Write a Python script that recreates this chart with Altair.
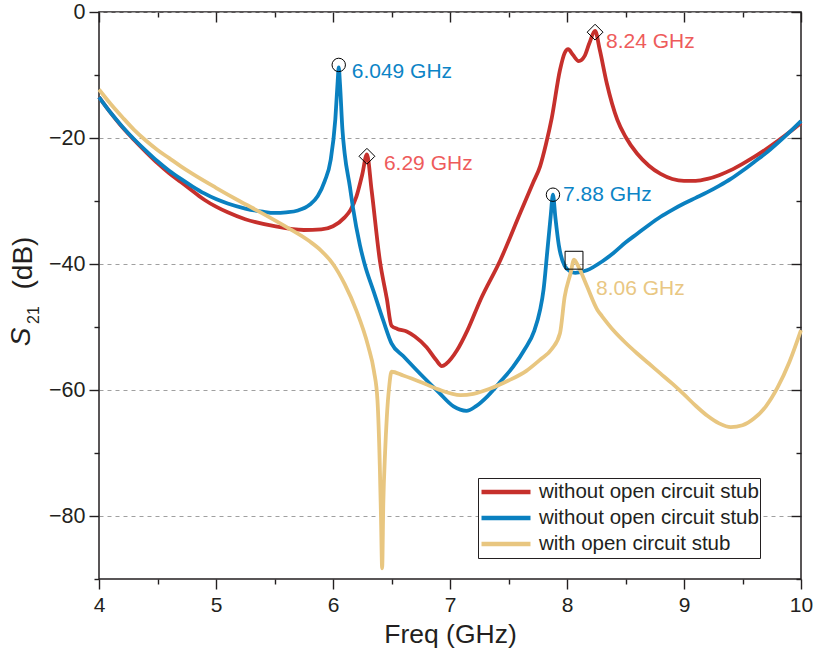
import altair as alt
import pandas as pd

# ---------------- data ----------------
series_names = ["without open circuit stub", "without open circuit stub\u200b", "with open circuit stub"]
series_colors = ["#C6302C", "#0A80C0", "#E8C680"]

red_freq = [4.0, 4.1, 4.2, 4.3, 4.4, 4.5, 4.6, 4.7, 4.8, 4.9, 5.0, 5.1, 5.25, 5.5, 5.75, 5.9, 6.0, 6.1, 6.15,
            6.2, 6.25, 6.29, 6.33, 6.4, 6.46, 6.5, 6.55, 6.63, 6.7, 6.8, 6.88, 6.93, 6.97, 7.06, 7.15, 7.26,
            7.43, 7.6, 7.71, 7.77, 7.82, 7.87, 7.94, 7.98, 8.01, 8.05, 8.1, 8.15, 8.19, 8.24, 8.28, 8.34, 8.43,
            8.5, 8.6, 8.7, 8.8, 8.9, 9.0, 9.1, 9.2, 9.3, 9.4, 9.5, 9.6, 9.7, 9.8, 9.9, 10.0]
red_s21 = [-13.5, -16.0, -18.3, -20.3, -22.2, -24.0, -25.6, -27.0, -28.4, -29.8, -30.9, -31.8, -32.9, -34.0,
           -34.6, -34.5, -34.0, -32.6, -31.4, -29.3, -25.8, -22.6, -28.3, -39.4, -45.5, -49.8, -50.3, -50.7,
           -51.5, -53.2, -55.2, -56.2, -55.8, -53.7, -50.5, -45.7, -39.4, -31.9, -27.1, -24.5, -21.0, -16.8,
           -9.2, -6.5, -5.9, -6.8, -7.8, -7.0, -5.0, -3.0, -6.0, -11.3, -17.1, -19.8, -22.5, -24.4, -25.7,
           -26.5, -26.8, -26.8, -26.5, -25.9, -25.1, -24.1, -23.0, -21.8, -20.5, -19.1, -17.6]

blue_freq = [4.0, 4.1, 4.2, 4.3, 4.4, 4.5, 4.6, 4.7, 4.8, 4.9, 5.0, 5.1, 5.25, 5.4, 5.5, 5.6, 5.7, 5.8, 5.87,
             5.93, 5.98, 6.02, 6.04, 6.049, 6.06, 6.08, 6.1, 6.145, 6.17, 6.23, 6.27, 6.35, 6.43, 6.5, 6.6,
             6.77, 6.9, 7.03, 7.14, 7.22, 7.32, 7.43, 7.54, 7.64, 7.72, 7.77, 7.8, 7.83, 7.86, 7.88, 7.9, 7.93,
             7.98, 8.03, 8.07, 8.17, 8.3, 8.4, 8.5, 8.6, 8.7, 8.8, 8.9, 9.0, 9.1, 9.2, 9.3, 9.4, 9.5, 9.6, 9.7,
             9.8, 9.9, 10.0]
blue_s21 = [-13.5, -16.0, -18.2, -20.2, -22.0, -23.7, -25.2, -26.5, -27.7, -28.8, -29.7, -30.4, -31.2, -31.7,
            -31.9, -31.8, -31.5, -30.6, -29.2, -26.8, -23.5, -17.0, -11.0, -8.8, -11.5, -18.5, -22.5, -27.8,
            -31.0, -37.0, -40.0, -44.5, -49.0, -52.6, -54.6, -57.9, -60.3, -62.6, -63.3, -62.6, -61.0, -58.7,
            -56.3, -53.5, -50.6, -47.3, -44.0, -38.3, -32.5, -29.0, -32.5, -37.0, -40.3, -41.2, -41.4, -41.0,
            -39.6, -38.2, -36.6, -35.2, -33.8, -32.5, -31.4, -30.4, -29.5, -28.6, -27.6, -26.5, -25.2, -23.8,
            -22.4, -20.8, -19.1, -17.3]

tan_freq = [4.0, 4.1, 4.2, 4.3, 4.4, 4.5, 4.6, 4.7, 4.8, 5.0, 5.2, 5.4, 5.6, 5.8, 5.9, 6.0, 6.1, 6.2, 6.3,
            6.35, 6.38, 6.4, 6.41, 6.42, 6.43, 6.445, 6.46, 6.48, 6.5, 6.6, 6.77, 6.9, 7.09, 7.2, 7.34, 7.5,
            7.65, 7.77, 7.87, 7.94, 7.98, 8.03, 8.06, 8.1, 8.17, 8.26, 8.3, 8.4, 8.5, 8.6, 8.7, 8.8, 8.9, 9.0,
            9.1, 9.2, 9.3, 9.4, 9.5, 9.6, 9.7, 9.8, 9.9, 10.0]
tan_s21 = [-12.3, -14.6, -16.7, -18.7, -20.4, -21.9, -23.2, -24.5, -25.7, -27.9, -30.0, -32.0, -34.1, -36.4,
           -37.9, -40.0, -43.2, -47.4, -53.0, -57.0, -61.6, -72.0, -80.0, -88.3, -78.0, -70.0, -64.3, -59.5,
           -57.1, -57.7, -58.9, -59.9, -60.8, -60.6, -59.8, -58.5, -57.0, -55.2, -53.5, -51.0, -45.2, -41.5,
           -39.3, -40.5, -43.5, -47.3, -48.3, -50.6, -52.5, -54.2, -55.8, -57.4, -59.0, -60.7, -62.5, -64.1,
           -65.3, -65.9, -65.6, -64.5, -62.6, -59.6, -55.6, -50.5]

peak_freq = [6.049, 6.29, 8.24, 7.88, 8.06]
peak_s21 = [-8.4, -22.9, -3.2, -29.0, -39.4]
peak_text = ["6.049 GHz", "6.29 GHz", "8.24 GHz", "7.88 GHz", "8.06 GHz"]
peak_marker = ["circle", "diamond", "diamond", "circle", "square"]

x_major = [4, 5, 6, 7, 8, 9, 10]
x_minor = [4.5, 5.5, 6.5, 7.5, 8.5, 9.5]
y_major = [-80, -60, -40, -20, 0]
y_minor = [-90, -70, -50, -30, -10]

ytitle_parts = ["S", "21", "(dB)"]

# ---------------- styles ----------------
W, H = 702, 567
FONT = "Liberation Sans"
INK = "#231F20"
label_dx = [13, 17, 11, 10, 22]
label_dy = [7.5, 7.5, 9.5, 0, 28.5]
label_colors = ["#0C84C6", "#EE5B5B", "#EE5B5B", "#0C84C6", "#E9C783"]
marker_sizes = [180, 320, 150]
ytitle_x = [-77, -65, -75]
ytitle_y = [325, 303, 251]
ytitle_size = [28, 16, 28]
ytitle_style = ["italic", "normal", "normal"]

xs = alt.Scale(domain=[4, 10], nice=False, zero=False)
ys = alt.Scale(domain=[-90, 0], nice=False, zero=False)

def ax(orient, values, size, offset=0, labels=False, grid=False, title=None, **kw):
    opts = dict(orient=orient, values=values, tickSize=size, tickWidth=1.4, tickColor=INK,
                labels=labels, domain=False, grid=grid, offset=offset, title=title)
    opts.update(kw)
    return alt.Axis(**opts)

x_axes = [
    ax("bottom", x_major, 10, labels=True, title="Freq (GHz)", labelFontSize=21, labelPadding=5,
       labelFont=FONT, labelColor=INK, titleFont=FONT, titleFontSize=26.5, titleFontWeight="normal",
       titleColor=INK, titlePadding=6, format="d", labelFlush=False),
    ax("bottom", x_minor, 5),
    ax("bottom", x_major, 10, offset=-H),
    ax("bottom", x_minor, 5, offset=-H),
]
y_axes = [
    ax("left", y_major, 10, labels=True, grid=True, labelFontSize=21.5, labelPadding=4, labelFont=FONT,
       labelColor=INK, gridDash=[4, 4], gridColor="#A0A0A0", gridWidth=1),
    ax("left", y_minor, 5),
    ax("left", y_major, 10, offset=-W),
    ax("left", y_minor, 5, offset=-W),
]

legend = alt.Legend(orient="none", legendX=379, legendY=466, title=None, direction="vertical",
                    symbolType="stroke", symbolStrokeWidth=4.5, symbolSize=2400, clipHeight=26,
                    labelFontSize=20.5, labelFont=FONT, labelColor=INK, labelOffset=6, labelLimit=400,
                    strokeColor=INK, fillColor="white", padding=1, rowPadding=0)

color = alt.Color("series:N", scale=alt.Scale(domain=series_names, range=series_colors), legend=legend)

freqs = [red_freq, blue_freq, tan_freq]
vals = [red_s21, blue_s21, tan_s21]

layers = []
for i in range(3):
    df = pd.DataFrame({"freq": freqs[i], "s21": vals[i], "series": series_names[i]})
    layers.append(
        alt.Chart(df).mark_line(strokeWidth=3.8, interpolate="monotone").encode(
            x=alt.X("freq:Q", scale=xs, axis=x_axes[i]),
            y=alt.Y("s21:Q", scale=ys, axis=y_axes[i]),
            color=color,
        )
    )

peaks = pd.DataFrame({"freq": peak_freq, "s21": peak_s21, "text": peak_text, "marker": peak_marker})
layers.append(
    alt.Chart(peaks).mark_point(filled=False, color="black", strokeWidth=1, opacity=1).encode(
        x=alt.X("freq:Q", scale=xs, axis=x_axes[3]),
        y=alt.Y("s21:Q", scale=ys, axis=y_axes[3]),
        shape=alt.Shape("marker:N", scale=alt.Scale(domain=["circle", "diamond", "square"],
                                                    range=["circle", "diamond", "square"]), legend=None),
        size=alt.Size("marker:N", scale=alt.Scale(domain=["circle", "diamond", "square"],
                                                  range=marker_sizes), legend=None),
    )
)

for k in range(len(peak_text)):
    one = peaks.iloc[[k]]
    layers.append(
        alt.Chart(one).mark_text(align="left", baseline="middle", dx=label_dx[k], dy=label_dy[k],
                                 fontSize=21, font=FONT, color=label_colors[k]).encode(
            x=alt.X("freq:Q", scale=xs, axis=None),
            y=alt.Y("s21:Q", scale=ys, axis=None),
            text="text:N",
        )
    )

for k in range(len(ytitle_parts)):
    layers.append(
        alt.Chart(pd.DataFrame({"t": [ytitle_parts[k]]})).mark_text(
            angle=270, align="center", baseline="middle", fontSize=ytitle_size[k], font=FONT,
            fontStyle=ytitle_style[k], color=INK).encode(
            x=alt.value(ytitle_x[k]), y=alt.value(ytitle_y[k]), text="t:N")
    )

chart = alt.layer(*layers).resolve_axis(x="independent", y="independent").properties(
    width=W, height=H,
    autosize=alt.AutoSizeParams(type="none"),
    padding={"left": 99, "top": 12, "right": 16, "bottom": 81},
    background="white",
).configure_view(stroke=INK, strokeWidth=1.5)

chart.save("out.html", embed_options={"renderer": "svg", "actions": False})
